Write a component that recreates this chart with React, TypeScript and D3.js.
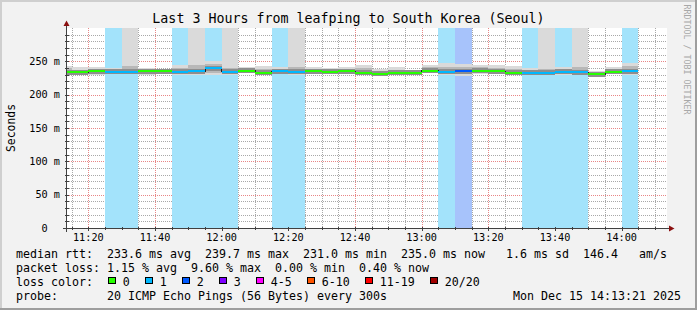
import React from "react";
import * as d3 from "d3";

// ---------- data ----------
const SLOT_TIMES = [
  "11:10", "11:15", "11:20", "11:25", "11:30", "11:35", "11:40", "11:45", "11:50", "11:55",
  "12:00", "12:05", "12:10", "12:15", "12:20", "12:25", "12:30", "12:35", "12:40", "12:45",
  "12:50", "12:55", "13:00", "13:05", "13:10", "13:15", "13:20", "13:25", "13:30", "13:35",
  "13:40", "13:45", "13:50", "13:55", "14:00",
];
const MEDIAN_RTT = [
  233.4, 233.4, 235.2, 234.4, 234.4, 235.2, 235.2, 234.2, 235.4, 239.7,
  234.4, 235.9, 232.7, 235.4, 234.4, 235.2, 234.2, 235.2, 233.1, 231.5,
  232.7, 233.1, 235.9, 234.2, 234.8, 235.9, 235.2, 232.7, 232.9, 232.7,
  234.2, 233.9, 231.0, 234.6, 235.0,
];
const LOSS_COUNT = [
  0, 0, 0, 1, 1, 0, 0, 1, 1, 1,
  1, 0, 0, 1, 1, 0, 0, 0, 0, 0,
  0, 0, 0, 1, 2, 0, 0, 0, 1, 1,
  1, 1, 0, 0, 1,
];
const SMOKE_MIN = [
  231, 231, 230, 231, 231, 230, 231, 230, 230, 229,
  229, 232, 229, 231, 230, 231, 232, 231, 230, 229,
  230, 231, 232, 230, 228, 231, 231, 230, 229, 229,
  230, 230, 229, 232, 230,
];
// values above the 300 ms top run off the chart
const SMOKE_MAX = [
  243, 241, 241, 240, 400, 240, 239, 245, 400, 250,
  400, 241, 243, 241, 400, 241, 240, 242, 244, 238,
  241, 237, 244, 247, 246, 245, 244, 243, 240, 400,
  242, 400, 236, 242, 247,
];
const SMOKE_INNER_LO = [
  232, 232, 232, 232, 233, 232, 233, 232, 232, 233,
  232, 233, 231, 233, 232, 233, 233, 233, 231, 230,
  231, 232, 233, 232, 231, 233, 233, 231, 231, 231,
  231, 232, 230, 233, 232,
];
const SMOKE_INNER_HI = [
  240, 237, 238, 237, 243, 237, 237, 240, 244, 246,
  240, 238, 238, 238, 242, 238, 237, 239, 240, 236,
  237, 236, 241, 242, 242, 241, 240, 239, 236, 238,
  239, 242, 234, 239, 243,
];

const Y_TICKS = [0, 50, 100, 150, 200, 250];
const Y_TICK_LABELS = ["0  ", "50 m", "100 m", "150 m", "200 m", "250 m"];
const X_TICK_LABELS = ["11:20", "11:40", "12:00", "12:20", "12:40", "13:00", "13:20", "13:40", "14:00"];

const LOSS_LABELS = ["0", "1", "2", "3", "4-5", "6-10", "11-19", "20/20"];
const LOSS_COLORS = ["#26ff00", "#00b8ff", "#0059ff", "#7e00ff", "#ff00ff", "#ff5500", "#ff0000", "#a10000"];
const LOSS_BG_COLORS = ["none", "#a3e3fb", "#a7c3fb", "#cfa8fb", "#ffa8ff", "#ffc4a8", "#ffa8a8", "#e0a8a8"];

const TITLE = "Last 3 Hours from leafping to South Korea (Seoul)";
const Y_TITLE = "Seconds";
const WATERMARK = "RRDTOOL / TOBI OETIKER";
const RTT_STATS = ["233.6 ms avg", "239.7 ms max", "231.0 ms min", "235.0 ms now", " 1.6 ms sd", "146.4   am/s"];
const LOSS_STATS = ["1.15 % avg", "9.60 % max", "0.00 % min", "0.40 % now"];
const PROBE_TEXT = "20 ICMP Echo Pings (56 Bytes) every 300s";
const DATE_TEXT = "Mon Dec 15 14:13:21 2025";

// ---------- layout ----------
const W = 697, H = 310;
const X0 = 67, X1 = 667, Y0 = 28, Y1 = 228;
const MONO = "'DejaVu Sans Mono', monospace";
const LEG_FS = 11.63;
const CHAR_W = 7.0;
const LEG_X = 16;
const GRID_MINOR = "#a8a8a8";
const GRID_MAJOR = "#e88686";

const at = (hm: string, s = 0) => {
  const [h, m] = hm.split(":").map(Number);
  return new Date(2025, 11, 15, h, m, s);
};

export default function App() {
  const start = at("11:13", 36);
  const end = at("14:13", 36);
  const x = d3.scaleTime().domain([start, end]).range([X0, X1]);
  const y = d3.scaleLinear().domain([0, 300]).range([Y1, Y0]);

  const minorX = d3.timeMinute.every(5)!.range(start, end);
  const minorY = d3.range(10, 300, 10);
  const px = (v: number) => Math.round(v) + 0.5;

  const slots = SLOT_TIMES.map((t, i) => {
    const t0 = at(t);
    const t1 = new Date(t0.getTime() + 5 * 60000);
    return {
      x0: x(t0), x1: x(t1), med: MEDIAN_RTT[i], loss: LOSS_COUNT[i],
      lo: SMOKE_MIN[i], hi: SMOKE_MAX[i], ilo: SMOKE_INNER_LO[i], ihi: SMOKE_INNER_HI[i],
    };
  });

  const stepPts: [number, number][] = slots.map((s) => [s.x0, y(s.med)] as [number, number]);
  stepPts.push([slots[slots.length - 1].x1, y(slots[slots.length - 1].med)]);
  const stepLine = d3.line().curve(d3.curveStepAfter)(stepPts) || "";

  const lossIdx = (c: number) => (c <= 3 ? c : c <= 5 ? 4 : c <= 10 ? 5 : c <= 19 ? 6 : 7);

  let lx = LEG_X + 13 * CHAR_W + 1.3;
  const lossLegend = LOSS_LABELS.map((lab, i) => {
    const item = { x: lx, lab, color: LOSS_COLORS[i] };
    lx += 16 + (lab.length + 2) * CHAR_W;
    return item;
  });

  const line1 = "median rtt:  " + RTT_STATS.join("  ");
  const line2 = "packet loss: " + LOSS_STATS.join("  ");

  const txt = { fontFamily: MONO, whiteSpace: "pre" as const };

  return (
    <svg width={W} height={H} style={{ position: "absolute", left: 0, top: 0, display: "block" }}>
      <defs>
        <clipPath id="cv">
          <rect x={X0} y={Y0} width={X1 - X0} height={Y1 - Y0} />
        </clipPath>
      </defs>
      <rect x={0} y={0} width={W} height={H} fill="#f2f2f2" />
      <rect x={0} y={0} width={W} height={2} fill="#cfcfcf" />
      <rect x={0} y={0} width={2} height={H} fill="#cfcfcf" />
      <rect x={0} y={H - 2} width={W} height={2} fill="#9e9e9e" />
      <rect x={W - 2} y={0} width={2} height={H} fill="#9e9e9e" />

      <rect x={X0} y={Y0} width={X1 - X0} height={Y1 - Y0} fill="#ffffff" />

      {/* grid (dotted) */}
      <g>
        {minorY.filter((v) => v % 50 !== 0).map((v) => (
          <line key={"hy" + v} x1={X0} x2={X1} y1={px(y(v))} y2={px(y(v))}
            stroke={GRID_MINOR} strokeWidth={1} strokeDasharray="1 1" />
        ))}
        {minorX.filter((t) => t.getMinutes() % 20 !== 0).map((t) => (
          <line key={"vx" + t.getTime()} x1={px(x(t))} x2={px(x(t))} y1={Y0} y2={Y1}
            stroke={GRID_MINOR} strokeWidth={1} strokeDasharray="1 1" />
        ))}
        {minorY.filter((v) => v % 50 === 0).map((v) => (
          <line key={"my" + v} x1={X0} x2={X1} y1={px(y(v))} y2={px(y(v))}
            stroke={GRID_MAJOR} strokeWidth={1} strokeDasharray="1 1" />
        ))}
        {minorX.filter((t) => t.getMinutes() % 20 === 0).map((t) => (
          <line key={"mx" + t.getTime()} x1={px(x(t))} x2={px(x(t))} y1={Y0} y2={Y1}
            stroke={GRID_MAJOR} strokeWidth={1} strokeDasharray="1 1" />
        ))}
      </g>

      <g clipPath="url(#cv)" shapeRendering="crispEdges">
        {slots.map((s, i) =>
          s.loss > 0 ? (
            <rect key={"bg" + i} x={s.x0} width={s.x1 - s.x0} y={Y0} height={Y1 - Y0}
              fill={LOSS_BG_COLORS[lossIdx(s.loss)]} />
          ) : null
        )}
        {slots.map((s, i) => (
          <rect key={"so" + i} x={s.x0} width={s.x1 - s.x0} y={y(s.hi)} height={y(s.lo) - y(s.hi)} fill="#dadada" />
        ))}
        {slots.map((s, i) => (
          <rect key={"si" + i} x={s.x0} width={s.x1 - s.x0} y={y(s.ihi)} height={y(s.ilo) - y(s.ihi)} fill="#b8b8b8" />
        ))}
        {slots.map((s, i) => (
          <rect key={"sc" + i} x={s.x0} width={s.x1 - s.x0} y={y(s.med) - 2.5} height={5} fill="#8e8e8e" />
        ))}
        <path d={stepLine} fill="none" stroke="#202020" strokeWidth={1} />
        {slots.map((s, i) => (
          <line key={"md" + i} x1={s.x0} x2={s.x1} y1={y(s.med)} y2={y(s.med)}
            stroke={LOSS_COLORS[lossIdx(s.loss)]} strokeWidth={2} />
        ))}
      </g>

      {/* axes */}
      <g shapeRendering="crispEdges" stroke="#404040">
        <line x1={X0 - 0.5} x2={X0 - 0.5} y1={Y1 + 4} y2={Y0 - 3} />
        <line x1={X0 - 4} x2={X1 + 3} y1={Y1 + 0.5} y2={Y1 + 0.5} />
        {minorY.map((v) => (
          <line key={"ty" + v} x1={X0 - 2.5} x2={X0 + 1.5} y1={px(y(v))} y2={px(y(v))} />
        ))}
        {minorX.map((t) => (
          <line key={"tx" + t.getTime()} x1={px(x(t))} x2={px(x(t))} y1={Y1 - 1}
            y2={Y1 + (t.getMinutes() % 20 === 0 ? 3 : 2)} />
        ))}
      </g>
      <path d={`M${X0 - 3.5},${Y0 - 2} L${X0 + 2.5},${Y0 - 2} L${X0 - 0.5},${Y0 - 7.5} Z`} fill="#8b1010" />
      <path d={`M${X1 + 2},${Y1 - 2.5} L${X1 + 2},${Y1 + 3.5} L${X1 + 7.5},${Y1 + 0.5} Z`} fill="#8b1010" />

      {Y_TICKS.map((v, i) => (
        <text key={"yl" + v} x={60} y={y(v) + 3.7} textAnchor="end" fontSize={10.2} style={txt} xmlSpace="preserve">
          {Y_TICK_LABELS[i]}
        </text>
      ))}
      {X_TICK_LABELS.map((lab) => (
        <text key={"xl" + lab} x={x(at(lab))} y={241.3} textAnchor="middle" fontSize={10.2} style={txt}>
          {lab}
        </text>
      ))}

      <text x={W / 2} y={23.3} textAnchor="middle" fontSize={13.3} style={txt}>{TITLE}</text>
      <text transform={`translate(14.5, ${(Y0 + Y1) / 2}) rotate(-90)`} textAnchor="middle" fontSize={11.4} style={txt}>
        {Y_TITLE}
      </text>
      <text transform={`translate(684, 4.5) rotate(90)`} fontSize={8.3} fill="#a8a8a8" style={txt}>
        {WATERMARK}
      </text>

      <text x={LEG_X} y={257.6} fontSize={LEG_FS} style={txt} xmlSpace="preserve">{line1}</text>
      <text x={LEG_X} y={271.8} fontSize={LEG_FS} style={txt} xmlSpace="preserve">{line2}</text>
      <text x={LEG_X} y={285.9} fontSize={LEG_FS} style={txt} xmlSpace="preserve">loss color:</text>
      {lossLegend.map((it) => (
        <g key={"lg" + it.lab}>
          <rect x={it.x + 0.5} y={277.2} width={6.5} height={6.5} fill={it.color} stroke="#000" strokeWidth={1} shapeRendering="crispEdges" />
          <text x={it.x + 14.5} y={285.9} fontSize={LEG_FS} style={txt}>{it.lab}</text>
        </g>
      ))}
      <text x={LEG_X} y={300.1} fontSize={LEG_FS} style={txt} xmlSpace="preserve">{"probe:       " + PROBE_TEXT}</text>
      <text x={681} y={300.1} textAnchor="end" fontSize={LEG_FS} style={txt}>{DATE_TEXT}</text>
    </svg>
  );
}
